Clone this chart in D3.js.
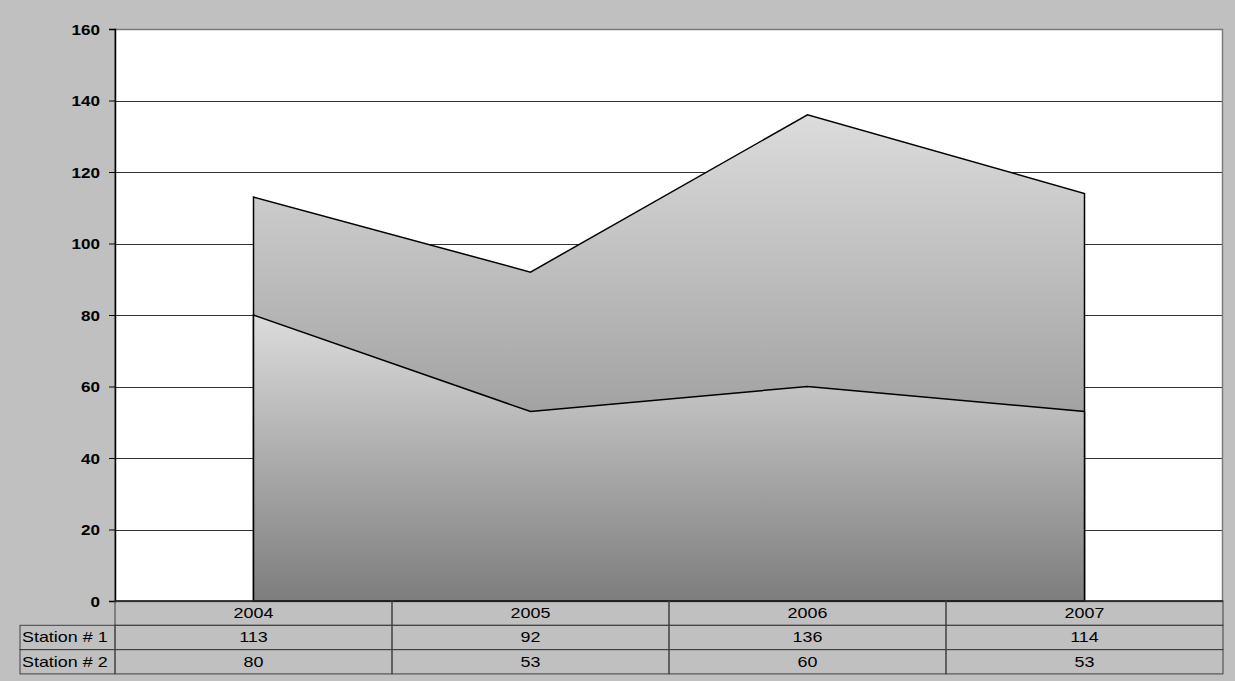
<!DOCTYPE html>
<html><head><meta charset="utf-8">
<script src="https://cdn.jsdelivr.net/npm/d3@7"></script>
<style>body{margin:0;background:#c0c0c0}svg{display:block}</style>
</head><body>
<script>
const years = ["2004","2005","2006","2007"];
const seriesNames = ["Station # 1","Station # 2"];
const station1 = [113, 92, 136, 114];
const station2 = [80, 53, 60, 53];
const yTicks = [0,20,40,60,80,100,120,140,160];

const W = 1235, H = 681;
const L = 115, R = 1223, T = 29, B = 601;
const rowH = 24.3, labelX = 20;
const FONT = "Liberation Sans, Arial, sans-serif";
const SX = 1.28;

const svg = d3.select("body").append("svg").attr("width", W).attr("height", H);
svg.append("rect").attr("width", W).attr("height", H).attr("fill", "#c0c0c0");

const x = d3.scaleBand().domain(years).range([L, R]);
const y = d3.scaleLinear().domain([0,160]).range([B, T]);
const cx = d => x(d) + x.bandwidth()/2;

svg.append("rect").attr("x", L).attr("y", T).attr("width", R-L).attr("height", B-T).attr("fill", "#fff");

// gridlines
svg.append("g").selectAll("line").data(yTicks.filter(t=>t>0 && t<160)).join("line")
  .attr("x1", L).attr("x2", R).attr("y1", d=>Math.round(y(d))+0.5).attr("y2", d=>Math.round(y(d))+0.5)
  .attr("stroke", "#333").attr("stroke-width", 1);

// plot border (gray)
svg.append("rect").attr("x", L).attr("y", T+0.5).attr("width", R-L-0.5).attr("height", B-T)
  .attr("fill","none").attr("stroke","#7a7a7a").attr("stroke-width",1.5);

const defs = svg.append("defs");
const grad = defs.append("linearGradient").attr("id","g").attr("x1",0).attr("y1",0).attr("x2",0).attr("y2",1);
grad.append("stop").attr("offset","0%").attr("stop-color","#dcdcdc");
grad.append("stop").attr("offset","100%").attr("stop-color","#7d7d7d");

const area = d3.area().x((d,i)=>cx(years[i])).y0(y(0)).y1(d=>y(d));
[station1, station2].forEach(s => {
  svg.append("path").datum(s).attr("d", area).attr("fill", "url(#g)")
    .attr("stroke", "#000").attr("stroke-width", 1.5).attr("stroke-linejoin","miter");
});

// y axis
const ax = svg.append("g").attr("transform", `translate(${L},0)`)
  .call(d3.axisLeft(y).tickValues(yTicks).tickSize(6).tickPadding(0));
ax.select(".domain").attr("stroke","#000").attr("stroke-width",1.5);
ax.selectAll(".tick line").attr("stroke","#000");
ax.selectAll(".tick text")
  .attr("x", 0).attr("y", 0).attr("dy", 0)
  .attr("transform", "translate(-15,5) scale(1.22,1)")
  .attr("font-family", FONT).attr("font-size", 14)
  .attr("font-weight","bold").attr("fill","#000");

// x baseline
svg.append("line").attr("x1",L).attr("x2",R).attr("y1",B).attr("y2",B).attr("stroke","#000").attr("stroke-width",1.5);

// data table
const tbl = svg.append("g").attr("font-family", FONT).attr("font-size",14).attr("fill","#000");
const stroke = "#404040";
function txt(px, py, s, anchor) {
  tbl.append("text").attr("transform", `translate(${px},${py}) scale(${SX},1)`)
    .attr("dy","0.36em").attr("text-anchor", anchor).text(s);
}
years.forEach(yr => {
  tbl.append("rect").attr("x", x(yr)).attr("y", B).attr("width", x.bandwidth()).attr("height", rowH)
    .attr("fill","none").attr("stroke",stroke);
  txt(cx(yr), B + rowH/2, yr, "middle");
});
[station1, station2].forEach((s, r) => {
  const ry = B + rowH*(r+1);
  tbl.append("rect").attr("x", labelX).attr("y", ry).attr("width", L-labelX).attr("height", rowH)
    .attr("fill","none").attr("stroke",stroke);
  txt(labelX+2, ry+rowH/2, seriesNames[r], "start");
  s.forEach((v,i) => {
    tbl.append("rect").attr("x", x(years[i])).attr("y", ry).attr("width", x.bandwidth()).attr("height", rowH)
      .attr("fill","none").attr("stroke",stroke);
    txt(cx(years[i]), ry+rowH/2, v, "middle");
  });
});
</script>
</body></html>
